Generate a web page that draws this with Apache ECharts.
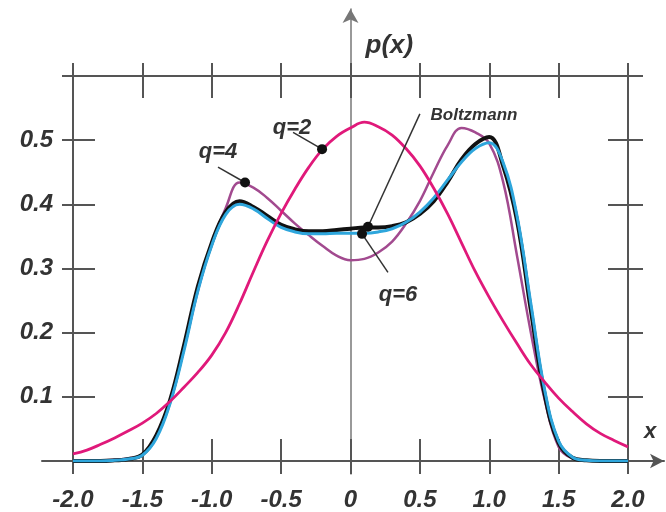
<!DOCTYPE html>
<html>
<head>
<meta charset="utf-8">
<script src="https://cdn.jsdelivr.net/npm/echarts@6/dist/echarts.min.js"></script>
<style>
  html, body { margin: 0; padding: 0; background: #fff; }
  #chart { width: 666px; height: 512px; }
</style>
</head>
<body>
<div id="chart"></div>
<script>
// x grid of the curves, step 0.1
const xValues = [-2.0, -1.9, -1.8, -1.7, -1.6, -1.5, -1.4, -1.3, -1.2, -1.1,
  -1.0, -0.9, -0.8, -0.7, -0.6, -0.5, -0.4, -0.3, -0.2, -0.1,
  0.0, 0.1, 0.2, 0.3, 0.4, 0.5, 0.6, 0.7, 0.8, 0.9,
  1.0, 1.1, 1.2, 1.3, 1.4, 1.5, 1.6, 1.7, 1.8, 1.9, 2.0]

const q2Values = [0.011, 0.017, 0.026, 0.036, 0.047, 0.059, 0.074, 0.093, 0.115, 0.138,
  0.165, 0.200, 0.245, 0.295, 0.343, 0.386, 0.424, 0.458, 0.486, 0.506,
  0.519, 0.528, 0.521, 0.508, 0.487, 0.460, 0.425, 0.385, 0.340, 0.295,
  0.255, 0.218, 0.183, 0.150, 0.123, 0.098, 0.077, 0.058, 0.043, 0.032, 0.022]

const q4Values = [0.0, 0.0, 0.001, 0.002, 0.004, 0.010, 0.038, 0.095, 0.175, 0.265,
  0.340, 0.394, 0.434, 0.426, 0.410, 0.390, 0.370, 0.352, 0.335, 0.320,
  0.313, 0.315, 0.325, 0.342, 0.370, 0.405, 0.450, 0.492, 0.519, 0.512,
  0.495, 0.435, 0.320, 0.200, 0.095, 0.022, 0.004, 0.001, 0.0, 0.0, 0.0]

const boltzmannValues = [0.0, 0.0, 0.0, 0.001, 0.003, 0.010, 0.040, 0.095, 0.180, 0.272,
  0.340, 0.388, 0.405, 0.396, 0.382, 0.368, 0.361, 0.358, 0.358, 0.360,
  0.362, 0.364, 0.364, 0.366, 0.372, 0.385, 0.405, 0.435, 0.470, 0.494,
  0.505, 0.460, 0.375, 0.235, 0.103, 0.028, 0.005, 0.001, 0.0, 0.0, 0.0]

const q6Values = [0.0, 0.0, 0.0, 0.001, 0.003, 0.009, 0.035, 0.090, 0.172, 0.265,
  0.336, 0.384, 0.400, 0.393, 0.378, 0.364, 0.357, 0.354, 0.354, 0.355,
  0.355, 0.355, 0.357, 0.362, 0.372, 0.388, 0.410, 0.438, 0.466, 0.487,
  0.496, 0.465, 0.382, 0.245, 0.110, 0.031, 0.006, 0.001, 0.0, 0.0, 0.0]

const xTickLabels = ['-2.0', '-1.5', '-1.0', '-0.5', '0', '0.5', '1.0', '1.5', '2.0']
const yTickLabels = ['', '0.1', '0.2', '0.3', '0.4', '0.5', '']

// annotation dots on the curves and the far end of their pointer lines
const q2Dot = [-0.205, 0.486]
const q2Tail = [-0.414, 0.512]
const q4Dot = [-0.76, 0.434]
const q4Tail = [-0.955, 0.458]
const boltzmannDot = [0.126, 0.365]
const boltzmannTail = [0.5, 0.541]
const q6Dot = [0.083, 0.354]
const q6Tail = [0.27, 0.294]

const FRAME = '#555'
const TEXT = '#333'
const FONT = "'Liberation Sans', Arial, sans-serif"

function pairs(vals) {
  return xValues.map((x, i) => [x, vals[i]])
}

function annot(dot, tail, text, offset, size) {
  return {
    markPoint: {
      symbol: 'circle',
      symbolSize: 10,
      itemStyle: { color: '#111' },
      label: {
        show: true, formatter: text, position: 'inside', offset: offset,
        color: TEXT, fontSize: size, fontWeight: 'bold', fontStyle: 'italic', fontFamily: FONT
      },
      data: [{ coord: dot }]
    },
    markLine: {
      silent: true,
      symbol: 'none',
      label: { show: false },
      lineStyle: { color: '#333', width: 1.5, type: 'solid' },
      data: [[{ coord: dot }, { coord: tail }]]
    }
  }
}

function frameAxis(pos, opts) {
  const vertical = pos === 'left' || pos === 'right'
  return Object.assign({
    type: 'value',
    gridIndex: 0,
    position: pos,
    min: vertical ? 0 : -2,
    max: vertical ? 0.6 : 2,
    interval: vertical ? 0.1 : 0.5,
    axisLine: { show: false, onZero: false, lineStyle: { color: FRAME, width: 2 } },
    axisTick: { show: true, lineStyle: { color: FRAME, width: 2 } },
    axisLabel: { show: false },
    splitLine: { show: false }
  }, opts)
}

// second grid holds the two arrowed axes, spanning a bit past the frame
const g0 = { left: 73, right: 38, top: 76, bottom: 51 }
const g1 = { left: 42, right: 2, top: 9, bottom: 38 }
const pxX = (666 - g0.left - g0.right) / 4
const pxY = (512 - g0.top - g0.bottom) / 0.6

const labelStyle = { color: TEXT, fontSize: 24, fontWeight: 'bold', fontStyle: 'italic', fontFamily: FONT }

const chart = echarts.init(document.getElementById('chart'))
chart.setOption({
  animation: false,
  backgroundColor: '#fff',
  grid: [g0, g1],
  xAxis: [
    frameAxis('bottom', {
      axisTick: { inside: true, length: 22, lineStyle: { color: FRAME, width: 2 } },
      axisLabel: Object.assign({
        show: true, margin: 27, showMinLabel: true, showMaxLabel: true,
        formatter: (v) => xTickLabels[Math.round((v + 2) / 0.5)]
      }, labelStyle)
    }),
    frameAxis('bottom', { axisTick: { inside: false, length: 13, lineStyle: { color: FRAME, width: 2 } } }),
    frameAxis('top', {
      axisLine: { show: true, onZero: false, lineStyle: { color: FRAME, width: 2 } },
      axisTick: { inside: true, length: 22, lineStyle: { color: FRAME, width: 2 } }
    }),
    frameAxis('top', { axisTick: { inside: false, length: 13, lineStyle: { color: FRAME, width: 2 } } }),
    {
      type: 'value', gridIndex: 1,
      min: -2 - (g0.left - g1.left) / pxX,
      max: 2 + (g0.right - g1.right) / pxX,
      axisLine: { show: true, onZero: true, symbol: ['none', 'arrow'], symbolSize: [11, 14],
        lineStyle: { color: FRAME, width: 2 } },
      axisTick: { show: false }, axisLabel: { show: false }, splitLine: { show: false },
      name: 'x', nameLocation: 'end', nameGap: -20,
      nameTextStyle: Object.assign({}, labelStyle, { fontSize: 22, align: 'left', verticalAlign: 'bottom', padding: [0, 0, 18, 0] })
    }
  ],
  yAxis: [
    frameAxis('left', {
      axisLine: { show: true, onZero: false, lineStyle: { color: FRAME, width: 2 } },
      axisTick: { inside: true, length: 22, lineStyle: { color: FRAME, width: 2 } },
      axisLabel: Object.assign({
        show: true, margin: 20, showMinLabel: true, showMaxLabel: true,
        formatter: (v) => yTickLabels[Math.round(v / 0.1)]
      }, labelStyle)
    }),
    frameAxis('left', { axisTick: { inside: false, length: 11, lineStyle: { color: FRAME, width: 2 } } }),
    frameAxis('right', {
      axisLine: { show: true, onZero: false, lineStyle: { color: FRAME, width: 2 } },
      axisTick: { inside: true, length: 20, lineStyle: { color: FRAME, width: 2 } }
    }),
    frameAxis('right', { axisTick: { inside: false, length: 15, lineStyle: { color: FRAME, width: 2 } } }),
    {
      type: 'value', gridIndex: 1,
      min: -(g0.bottom - g1.bottom) / pxY,
      max: 0.6 + (g0.top - g1.top) / pxY,
      axisLine: { show: true, onZero: true, symbol: ['none', 'arrow'], symbolSize: [12, 14],
        lineStyle: { color: '#777', width: 1.5 } },
      axisTick: { show: false }, axisLabel: { show: false }, splitLine: { show: false },
      name: 'p(x)', nameLocation: 'end', nameGap: -50,
      nameTextStyle: Object.assign({}, labelStyle, { fontSize: 26, align: 'left', verticalAlign: 'bottom', padding: [0, 0, 0, 15] })
    }
  ],
  series: [
    Object.assign({
      name: 'q=4', type: 'line', data: pairs(q4Values), smooth: 0.4, showSymbol: false,
      lineStyle: { color: '#a24a8f', width: 2.5 }, itemStyle: { color: '#a24a8f' }
    }, annot(q4Dot, q4Tail, 'q=4', [-27, -31], 22)),
    Object.assign({
      name: 'Boltzmann', type: 'line', data: pairs(boltzmannValues), smooth: 0.4, showSymbol: false,
      lineStyle: { color: '#111', width: 4 }, itemStyle: { color: '#111' }
    }, annot(boltzmannDot, boltzmannTail, 'Boltzmann', [106, -111], 17)),
    Object.assign({
      name: 'q=6', type: 'line', data: pairs(q6Values), smooth: 0.4, showSymbol: false,
      lineStyle: { color: '#2ea6dc', width: 3 }, itemStyle: { color: '#2ea6dc' }
    }, annot(q6Dot, q6Tail, 'q=6', [36, 61], 22)),
    Object.assign({
      name: 'q=2', type: 'line', data: pairs(q2Values), smooth: 0.4, showSymbol: false,
      lineStyle: { color: '#e0197a', width: 2.8 }, itemStyle: { color: '#e0197a' }
    }, annot(q2Dot, q2Tail, 'q=2', [-30, -21], 22))
  ]
})
</script>
</body>
</html>
